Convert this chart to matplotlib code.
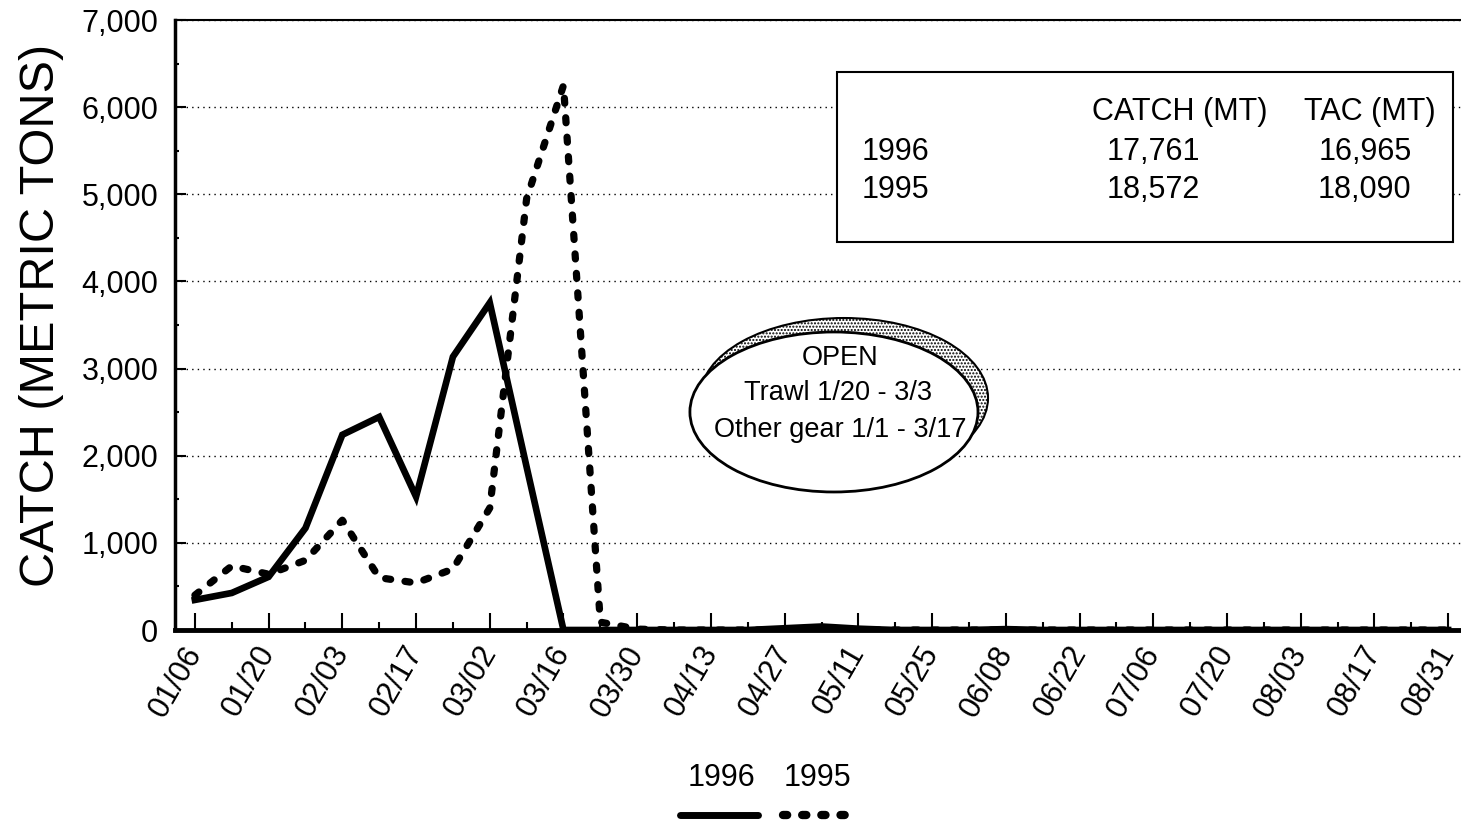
import matplotlib
matplotlib.use("Agg")
import matplotlib.pyplot as plt
from matplotlib.patches import Ellipse, Rectangle
from matplotlib.lines import Line2D

plt.rcParams['font.family'] = ['Liberation Sans', 'DejaVu Sans']

# weekly dates, 01/06 to 08/31
weeks = ['01/06', '01/13', '01/20', '01/27', '02/03', '02/10', '02/17', '02/24',
         '03/02', '03/09', '03/16', '03/23', '03/30', '04/06', '04/13', '04/20',
         '04/27', '05/04', '05/11', '05/18', '05/25', '06/01', '06/08', '06/15',
         '06/22', '06/29', '07/06', '07/13', '07/20', '07/27', '08/03', '08/10',
         '08/17', '08/24', '08/31']

catch_1996 = [345, 425, 610, 1170, 2240, 2445, 1530, 3135, 3755, 1870, 0, 0,
              0, 0, 0, 0, 20, 40, 15, 0, 0, 0, 10, 0, 0, 0, 0, 0, 0, 0, 0, 0,
              0, 0, 0]
catch_1995 = [400, 735, 640, 800, 1260, 600, 540, 700, 1400, 4950, 6250, 90,
              10, 0, 0, 0, 0, 0, 0, 0, 0, 0, 0, 0, 0, 0, 0, 0, 0, 0, 0, 0,
              0, 0, 0]

yticks = [0, 1000, 2000, 3000, 4000, 5000, 6000, 7000]

table_header = ['CATCH (MT)', 'TAC (MT)']
table_years = ['1996', '1995']
table_catch = ['17,761', '18,572']
table_tac = ['16,965', '18,090']

fig = plt.figure(figsize=(14.61, 8.23), dpi=100)
ax = fig.add_axes([175 / 1461, 193 / 823, 1286 / 1461, 610 / 823])

x = list(range(len(weeks)))

ax.plot(x, catch_1996, color='black', lw=4.8, solid_joinstyle='miter', zorder=4)
ax.plot(x, catch_1995, color='black', lw=5.2, linestyle=(0, (0.7, 2.0)),
        dash_capstyle='round', zorder=4)

ax.set_xlim(-0.54, 34.35)
ax.set_ylim(0, 7000)

ax.set_xticks(x[::2])
ax.set_xticklabels(weeks[::2], rotation=60, ha='right', va='center',
                   rotation_mode='anchor', fontsize=22)
ax.set_xticks(x[1::2], minor=True)
ax.set_yticks(yticks)
ax.set_yticklabels([f'{v:,}' for v in yticks], fontsize=22)
ax.set_yticks([500, 1500, 2500, 3500, 4500, 5500, 6500], minor=True)

ax.tick_params(axis='x', which='major', direction='in', length=12, width=1.5, pad=13)
ax.tick_params(axis='x', which='minor', direction='in', length=6, width=1.5)
ax.tick_params(axis='y', which='major', direction='in', length=8, width=1.5, pad=12)
ax.tick_params(axis='y', which='minor', direction='in', length=3, width=1.5)

ax.yaxis.grid(True, which='major', color='black', linestyle=(0, (1, 3)), lw=1)
ax.set_axisbelow(True)

ax.spines['right'].set_visible(False)
ax.spines['left'].set_linewidth(2.5)
ax.spines['bottom'].set_linewidth(3.5)
ax.spines['top'].set_linewidth(1.5)

ax.set_ylabel('CATCH (METRIC TONS)', fontsize=35)
ax.yaxis.set_label_coords(-0.0863, 0.516)

# summary table box
ax.add_patch(Rectangle((0.5148, 0.6361), 0.479, 0.2787, transform=ax.transAxes,
                       facecolor='white', edgecolor='black', lw=1.5, zorder=5))
ax.text(0.7815, 0.8492, table_header[0], transform=ax.transAxes, ha='center',
        va='center', fontsize=22, zorder=6)
ax.text(0.9292, 0.8492, table_header[1], transform=ax.transAxes, ha='center',
        va='center', fontsize=22, zorder=6)
for i, yy in enumerate([0.7836, 0.7213]):
    ax.text(0.5342, yy, table_years[i], transform=ax.transAxes, ha='left',
            va='center', fontsize=22, zorder=6)
    ax.text(0.7605, yy, table_catch[i], transform=ax.transAxes, ha='center',
            va='center', fontsize=22, zorder=6)
    ax.text(0.9253, yy, table_tac[i], transform=ax.transAxes, ha='center',
            va='center', fontsize=22, zorder=6)

# "OPEN" bubble with shadow
ax.add_patch(Ellipse((0.5202, 0.3803), 0.2240, 0.2623, transform=ax.transAxes,
                     facecolor='white', edgecolor='black', hatch='.....', lw=1.5,
                     zorder=5))
ax.add_patch(Ellipse((0.5124, 0.3574), 0.2240, 0.2623, transform=ax.transAxes,
                     facecolor='white', edgecolor='black', lw=2, zorder=6))
ax.text(0.5171, 0.4459, 'OPEN', transform=ax.transAxes, ha='center', va='center',
        fontsize=19.5, zorder=7)
ax.text(0.5156, 0.3885, 'Trawl 1/20 - 3/3', transform=ax.transAxes, ha='center',
        va='center', fontsize=19.5, zorder=7)
ax.text(0.5171, 0.3279, 'Other gear 1/1 - 3/17', transform=ax.transAxes,
        ha='center', va='center', fontsize=19.5, zorder=7)

# legend below the chart: labels above line samples
fig.text(722 / 1461, 1 - 778 / 823, '1996', ha='center', va='center', fontsize=22)
fig.text(817 / 1461, 1 - 778 / 823, '1995', ha='center', va='center', fontsize=22)
fig.add_artist(Line2D([680 / 1461, 758 / 1461], [1 - 815 / 823, 1 - 815 / 823],
                      color='black', lw=5, solid_capstyle='round'))
fig.add_artist(Line2D([783 / 1461, 858 / 1461], [1 - 815 / 823, 1 - 815 / 823],
                      color='black', lw=6, linestyle=(0, (0.5, 1.8)),
                      dash_capstyle='round'))

fig.savefig('out.png', dpi=100, facecolor='white')
